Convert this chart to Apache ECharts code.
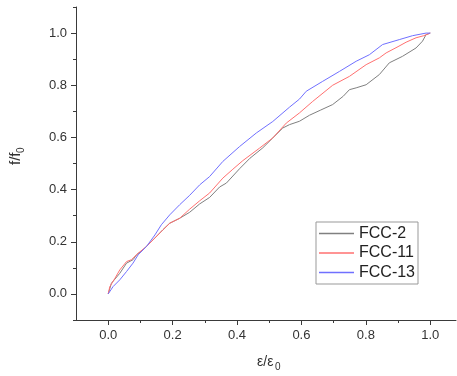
<!DOCTYPE html>
<html>
<head>
<meta charset="utf-8">
<script src="https://cdn.jsdelivr.net/npm/echarts@6/dist/echarts.min.js"></script>
<style>html,body{margin:0;padding:0;background:#fff}#c{width:457px;height:376px}</style>
</head>
<body>
<div id="c"></div>
<script>
var seriesNames = ['FCC-2', 'FCC-11', 'FCC-13'];
var xTickLabels = [0, 0.2, 0.4, 0.6, 0.8, 1.0];
var yTickLabels = [0, 0.2, 0.4, 0.6, 0.8, 1.0];
var xMinorTicks = [0.1, 0.3, 0.5, 0.7, 0.9];
var yMinorTicks = [-0.1, 0.1, 0.3, 0.5, 0.7, 0.9, 1.1];

var fcc2X = [0, 0.01, 0.036, 0.057, 0.077, 0.088, 0.108, 0.139, 0.17, 0.191, 0.222, 0.253, 0.284, 0.315, 0.346, 0.367, 0.408, 0.44, 0.48, 0.511, 0.542, 0.563, 0.594, 0.625, 0.66, 0.697, 0.73, 0.749, 0.77, 0.801, 0.842, 0.873, 0.914, 0.956, 0.976, 0.987, 1.0];
var fcc2Y = [0, 0.041, 0.079, 0.118, 0.131, 0.15, 0.169, 0.207, 0.246, 0.271, 0.29, 0.313, 0.345, 0.37, 0.41, 0.425, 0.48, 0.52, 0.56, 0.598, 0.636, 0.649, 0.662, 0.685, 0.705, 0.726, 0.758, 0.783, 0.79, 0.802, 0.841, 0.886, 0.911, 0.943, 0.969, 0.994, 1.0];

var fcc11X = [0, 0.005, 0.021, 0.036, 0.057, 0.072, 0.093, 0.119, 0.145, 0.17, 0.191, 0.222, 0.253, 0.284, 0.315, 0.356, 0.387, 0.418, 0.47, 0.511, 0.553, 0.594, 0.635, 0.667, 0.697, 0.749, 0.801, 0.842, 0.863, 0.9, 0.925, 0.956, 0.98, 1.0];
var fcc11Y = [0, 0.028, 0.06, 0.092, 0.124, 0.131, 0.156, 0.182, 0.214, 0.246, 0.271, 0.29, 0.325, 0.357, 0.387, 0.444, 0.478, 0.511, 0.559, 0.598, 0.655, 0.694, 0.738, 0.77, 0.8, 0.834, 0.879, 0.905, 0.924, 0.948, 0.965, 0.982, 0.99, 1.0];

var fcc13X = [0, 0.015, 0.036, 0.057, 0.077, 0.093, 0.119, 0.145, 0.165, 0.191, 0.222, 0.253, 0.284, 0.315, 0.356, 0.408, 0.46, 0.511, 0.563, 0.594, 0.615, 0.666, 0.718, 0.77, 0.811, 0.852, 0.904, 0.945, 0.987, 1.0];
var fcc13Y = [0, 0.028, 0.054, 0.086, 0.118, 0.15, 0.182, 0.226, 0.265, 0.303, 0.342, 0.378, 0.418, 0.45, 0.508, 0.565, 0.617, 0.661, 0.716, 0.747, 0.777, 0.815, 0.853, 0.892, 0.917, 0.956, 0.975, 0.99, 1.0, 1.0];

var colors = ['#808080', '#ff7070', '#7070ff'];

function pairs(xs, ys) { return xs.map(function (x, i) { return [x, ys[i]]; }); }

var chart = echarts.init(document.getElementById('c'), null, { renderer: 'canvas' });
var axisColor = '#3a3a3a';
var font = 'Liberation Sans, Arial, sans-serif';

function majorAxis(min, max, labels, margin, isX) {
  return {
    type: 'value', min: min, max: max,
    position: isX ? 'bottom' : 'left',
    axisLine: { show: true, onZero: false, lineStyle: { color: axisColor, width: 1 } },
    axisTick: { show: true, inside: false, length: 5, customValues: labels, lineStyle: { color: axisColor } },
    axisLabel: { show: true, customValues: labels, margin: margin, fontSize: 13, color: '#333', fontFamily: font,
      formatter: function (v) { return v.toFixed(1); } },
    splitLine: { show: false }
  };
}
function minorAxis(min, max, ticks, isX) {
  return {
    type: 'value', min: min, max: max,
    position: isX ? 'bottom' : 'left',
    axisLine: { show: false, onZero: false },
    axisTick: { show: true, inside: false, length: 3, customValues: ticks, lineStyle: { color: axisColor } },
    axisLabel: { show: false },
    splitLine: { show: false }
  };
}

var option = {
  animation: false,
  backgroundColor: '#fff',
  grid: { left: 76, right: 1, top: 7, bottom: 56, containLabel: false },
  xAxis: [majorAxis(-0.1, 1.08, xTickLabels, 9, true), minorAxis(-0.1, 1.08, xMinorTicks, true)],
  yAxis: [majorAxis(-0.1, 1.1, yTickLabels, 9, false), minorAxis(-0.1, 1.1, yMinorTicks, false)],
  legend: {
    orient: 'vertical', left: 316, top: 222,
    data: seriesNames,
    icon: 'rect', itemWidth: 35, itemHeight: 1.5, itemGap: 2.5,
    padding: [3, 3, 3, 3],
    borderColor: '#999', borderWidth: 1,
    textStyle: { fontSize: 16, color: '#222', fontFamily: font, lineHeight: 17 }
  },
  series: [
    { name: seriesNames[0], type: 'line', data: pairs(fcc2X, fcc2Y), showSymbol: false, color: colors[0], lineStyle: { width: 1, color: colors[0] } },
    { name: seriesNames[1], type: 'line', data: pairs(fcc11X, fcc11Y), showSymbol: false, color: colors[1], lineStyle: { width: 1, color: colors[1] } },
    { name: seriesNames[2], type: 'line', data: pairs(fcc13X, fcc13Y), showSymbol: false, color: colors[2], lineStyle: { width: 1, color: colors[2] } }
  ],
  graphic: [
    { type: 'group', x: 16, y: 155, rotation: Math.PI / 2, children: [
      { type: 'text', x: -10, y: 0, style: { text: 'f/f', fontSize: 15, fontFamily: font, fill: '#333', align: 'left', verticalAlign: 'middle' } },
      { type: 'text', x: 2, y: 5, style: { text: '0', fontSize: 10, fontFamily: font, fill: '#333', align: 'left', verticalAlign: 'middle' } }
    ]},
    { type: 'group', x: 269, y: 362, children: [
      { type: 'text', x: -12, y: 0, style: { text: 'ε/ε', fontSize: 14, fontFamily: font, fill: '#333', align: 'left', verticalAlign: 'middle' } },
      { type: 'text', x: 6, y: 5, style: { text: '0', fontSize: 10, fontFamily: font, fill: '#333', align: 'left', verticalAlign: 'middle' } }
    ]}
  ]
};
chart.setOption(option);
</script>
</body>
</html>
